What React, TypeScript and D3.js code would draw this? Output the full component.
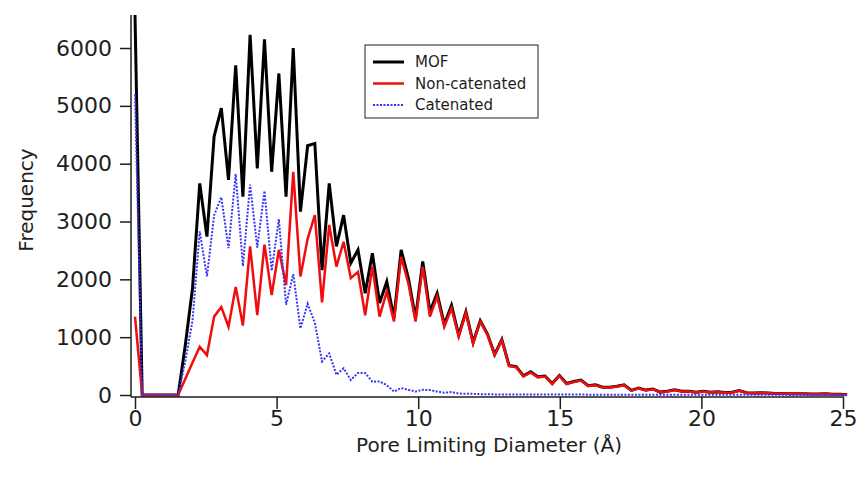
import React, { useEffect, useRef } from 'react'
import * as d3 from 'd3'

// histogram bin width (Å), bins start at 0
const BIN_WIDTH = 0.254

const mof = [
  6570, 0, 0, 0, 0, 0, 0, 870, 1850, 3660,
  2740, 4470, 4960, 3720, 5700, 3430, 6230, 3920, 6150, 3860,
  5560, 3430, 6000, 3170, 4310, 4350, 2160, 3660, 2570, 3110,
  2280, 2510, 1760, 2450, 1590, 1960, 1330, 2510, 2020, 1330,
  2310, 1440, 1760, 1220, 1550, 1035, 1440, 910, 1285, 1055,
  700, 960, 510, 490, 330, 400, 315, 328, 198, 338,
  198, 233, 258, 162, 176, 136, 136, 151, 176, 80,
  120, 85, 105, 50, 65, 90, 64, 64, 49, 64,
  49, 54, 44, 49, 78, 38, 33, 38, 33, 28,
  28, 22, 22, 22, 17, 17, 22, 12, 12, 6
]

const nonCatenated = [
  1355, 0, 0, 0, 0, 0, 0, 280, 560, 835,
  690, 1355, 1520, 1180, 1870, 1200, 2570, 1380, 2600, 1730,
  2510, 1900, 3860, 2050, 2700, 3110, 1600, 2940, 2220, 2650,
  2020, 2130, 1380, 2220, 1355, 1790, 1270, 2390, 1930, 1270,
  2220, 1355, 1700, 1180, 1500, 1010, 1420, 890, 1270, 1040,
  690, 950, 500, 480, 320, 390, 305, 320, 190, 330,
  190, 225, 250, 155, 170, 130, 130, 145, 170, 75,
  115, 80, 100, 45, 60, 85, 60, 60, 45, 60,
  45, 50, 40, 45, 75, 35, 30, 35, 30, 25,
  25, 20, 20, 20, 15, 15, 20, 10, 10, 5
]

const catenated = [
  5200, 0, 0, 0, 0, 0, 0, 590, 1290, 2830,
  2050, 3110, 3420, 2540, 3820, 2230, 3640, 2550, 3530, 2150,
  3040, 1560, 2090, 1150, 1580, 1250, 580, 720, 350, 460,
  260, 380, 380, 230, 235, 170, 60, 120, 90, 60,
  90, 85, 60, 40, 50, 25, 20, 20, 15, 15,
  10, 10, 10, 10, 10, 10, 8, 8, 8, 8,
  8, 8, 8, 6, 6, 6, 6, 6, 6, 5,
  5, 5, 5, 5, 5, 5, 4, 4, 4, 4,
  4, 4, 4, 4, 3, 3, 3, 3, 3, 3,
  3, 2, 2, 2, 2, 2, 2, 2, 2, 1
]

const xTicks = [0, 5, 10, 15, 20, 25]
const yTicks = [0, 1000, 2000, 3000, 4000, 5000, 6000]

const seriesList = [
  { name: 'MOF', values: mof, color: '#000000', width: 3, dash: null },
  { name: 'Non-catenated', values: nonCatenated, color: '#f00d0d', width: 2.5, dash: null },
  { name: 'Catenated', values: catenated, color: '#3535f5', width: 2, dash: '2,1.5' }
]

function PoreChart({ width = 861, height = 481 }) {
  const svgRef = useRef(null)

  useEffect(() => {
    const svg = d3.select(svgRef.current)
    svg.selectAll('*').remove()

    const font = '"DejaVu Sans", Verdana, sans-serif'
    const ink = '#1e1e1e'

    const xScale = d3.scaleLinear().domain([0, 25]).range([135, 843])
    const yScale = d3.scaleLinear().domain([0, 6571]).range([395, 15])

    svg.append('rect').attr('width', width).attr('height', height).attr('fill', '#fff')

    svg.append('clipPath').attr('id', 'plot-clip')
      .append('rect')
      .attr('x', 128).attr('y', 14)
      .attr('width', 725).attr('height', 386)

    // Y axis
    const yAxis = svg.append('g')
      .attr('transform', 'translate(131,0)')
      .call(d3.axisLeft(yScale).tickValues(yTicks).tickSize(11).tickSizeOuter(0).tickFormat(d3.format('d')))
    yAxis.select('.domain').attr('d', 'M0,15V397').attr('stroke', ink).attr('stroke-width', 1.5)
    yAxis.selectAll('.tick line').attr('stroke', ink).attr('stroke-width', 1.5)
    yAxis.selectAll('.tick text')
      .attr('x', -19)
      .attr('fill', ink)
      .style('font-family', font)
      .style('font-size', '22px')

    // X axis
    const xAxis = svg.append('g')
      .attr('transform', 'translate(0,397)')
      .call(d3.axisBottom(xScale).tickValues(xTicks).tickSize(12).tickSizeOuter(0))
    xAxis.select('.domain').attr('d', 'M131,0H844').attr('stroke', ink).attr('stroke-width', 1.5)
    xAxis.selectAll('.tick line').attr('stroke', ink).attr('stroke-width', 1.5)
    xAxis.selectAll('.tick text')
      .attr('y', 13)
      .attr('fill', ink)
      .style('font-family', font)
      .style('font-size', '22px')

    // Lines
    const line = d3.line()
      .x((d, i) => xScale(i * BIN_WIDTH))
      .y(d => yScale(d))

    const plot = svg.append('g').attr('clip-path', 'url(#plot-clip)')
    seriesList.forEach(s => {
      plot.append('path')
        .datum(s.values)
        .attr('d', line)
        .attr('fill', 'none')
        .attr('stroke', s.color)
        .attr('stroke-width', s.width)
        .attr('stroke-linejoin', 'miter')
        .attr('stroke-dasharray', s.dash)
    })

    // Axis titles
    svg.append('text')
      .attr('x', 489)
      .attr('y', 452)
      .attr('text-anchor', 'middle')
      .attr('fill', ink)
      .style('font-family', font)
      .style('font-size', '20px')
      .text('Pore Limiting Diameter (Å)')

    svg.append('text')
      .attr('transform', 'translate(33,200) rotate(-90)')
      .attr('text-anchor', 'middle')
      .attr('fill', ink)
      .style('font-family', font)
      .style('font-size', '20px')
      .text('Frequency')

    // Legend
    const legend = svg.append('g').attr('transform', 'translate(365,45)')
    legend.append('rect')
      .attr('width', 173)
      .attr('height', 73)
      .attr('fill', '#fff')
      .attr('stroke', ink)
      .attr('stroke-width', 1)

    seriesList.forEach((s, i) => {
      const y = 17 + i * 21.5
      legend.append('line')
        .attr('x1', 8).attr('x2', 39)
        .attr('y1', y).attr('y2', y)
        .attr('stroke', s.color)
        .attr('stroke-width', s.width)
        .attr('stroke-dasharray', s.dash)
      legend.append('text')
        .attr('x', 50)
        .attr('y', y)
        .attr('dy', '0.35em')
        .attr('fill', ink)
        .style('font-family', font)
        .style('font-size', '15px')
        .text(s.name)
    })
  }, [width, height])

  return (
    <svg
      ref={svgRef}
      width={width}
      height={height}
      style={{ position: 'absolute', left: 0, top: 0, display: 'block' }}
    />
  )
}

export default function App() {
  return <PoreChart />
}
